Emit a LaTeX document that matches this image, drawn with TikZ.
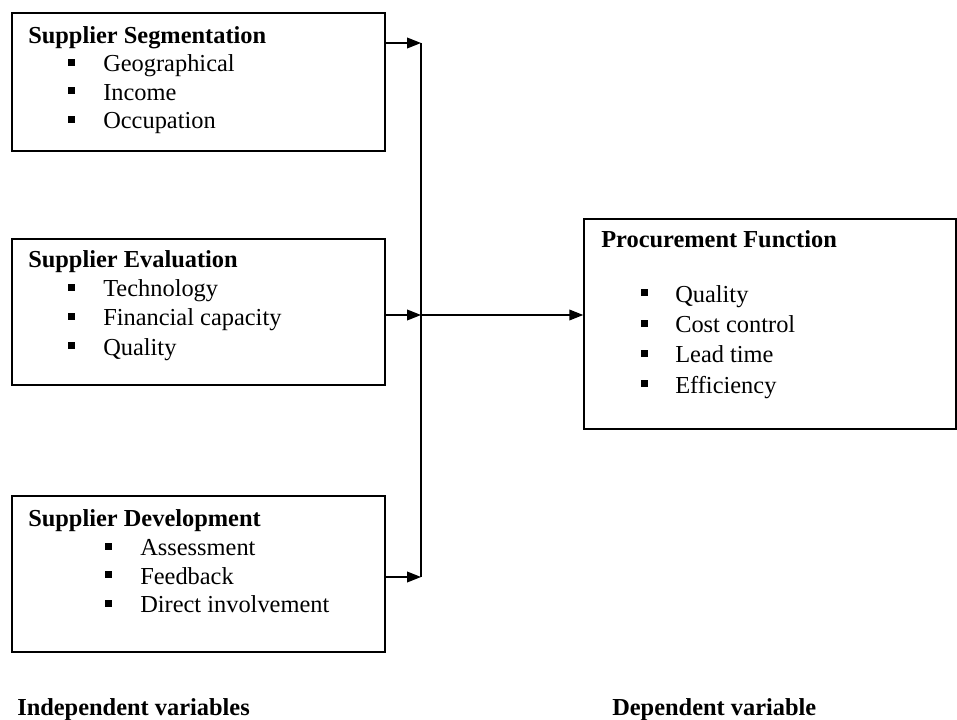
\documentclass[tikz,border=0pt]{standalone}
\usepackage{fontspec}
\setmainfont{Liberation Serif}
\usetikzlibrary{positioning}
\usetikzlibrary{arrows.meta}

\begin{document}
\begin{tikzpicture}[x=0.75pt, y=-0.75pt,
    every node/.style={font=\fontsize{18.3}{21.75}\selectfont},
    box/.style={draw, line width=1.1pt, inner sep=0pt, minimum width=279.75pt},
    head/.style={anchor=base west, inner sep=0pt, font=\fontsize{18.3}{21.75}\selectfont\bfseries},
    item/.style={anchor=base west, inner sep=0pt},
    sq/.style={fill=black, inner sep=0pt, minimum size=5.25pt},
    arr/.style={-{Triangle[length=10.5pt, width=8pt]}, line width=1.2pt}]
    \useasboundingbox (0,0) rectangle (957,720);

    % independent variables
    \node[box, minimum height=103.5pt] (seg) at (198.5, 82) {};
    \node[box, minimum height=109.5pt] (eva) at (198.5, 312) {};
    \node[box, minimum height=117pt] (dev) at (198.5, 574) {};
    \node[head] (segt) at (28, 43.5) {Supplier Segmentation};
    \node[head] (evat) at (28, 268) {Supplier Evaluation};
    \node[head] (devt) at (28, 526) {Supplier Development};
    \foreach \t [count=\k] in {Geographical, Income, Occupation} {
        \pgfmathsetmacro\y{43.5+\k*28.5}
        \node[item] (seg\k) at (103, \y) {\t};
        \node[sq] (segb\k) at (71.5, \y-9.5) {};
    }
    \foreach \t [count=\k] in {Technology, Financial capacity, Quality} {
        \pgfmathsetmacro\y{268+\k*29}
        \node[item] (eva\k) at (103, \y) {\t};
        \node[sq] (evab\k) at (71.5, \y-9.5) {};
    }
    \foreach \t [count=\k] in {Assessment, Feedback, Direct involvement} {
        \pgfmathsetmacro\y{527+\k*28.5}
        \node[item] (dev\k) at (140, \y) {\t};
        \node[sq] (devb\k) at (108.5, \y-9.5) {};
    }

    % dependent variable
    \node[box, minimum width=279pt, minimum height=157.5pt] (proc) at (770, 324) {};
    \node[head] (proct) at (601, 248) {Procurement Function};
    \foreach \t [count=\k] in {Quality, Cost control, Lead time, Efficiency} {
        \pgfmathsetmacro\y{272+\k*30.3}
        \node[item] (proc\k) at (675, \y) {\t};
        \node[sq] (procb\k) at (644.5, \y-9.5) {};
    }

    % connectors
    \coordinate (j1) at (421, 43);
    \coordinate (j2) at (421, 315);
    \coordinate (j3) at (421, 577);
    \draw[line width=1.2pt] (j1) -- (j3);
    \draw[arr] (seg.east |- j1) -- (j1);
    \draw[arr] (eva.east |- j2) -- (j2);
    \draw[arr] (dev.east |- j3) -- (j3);
    \draw[arr] (j2) -- (proc.west |- j2);

    \node[head] (indep) at (17, 715) {Independent variables};
    \node[head] (dep) at (612, 715) {Dependent variable};
\end{tikzpicture}
\end{document}
